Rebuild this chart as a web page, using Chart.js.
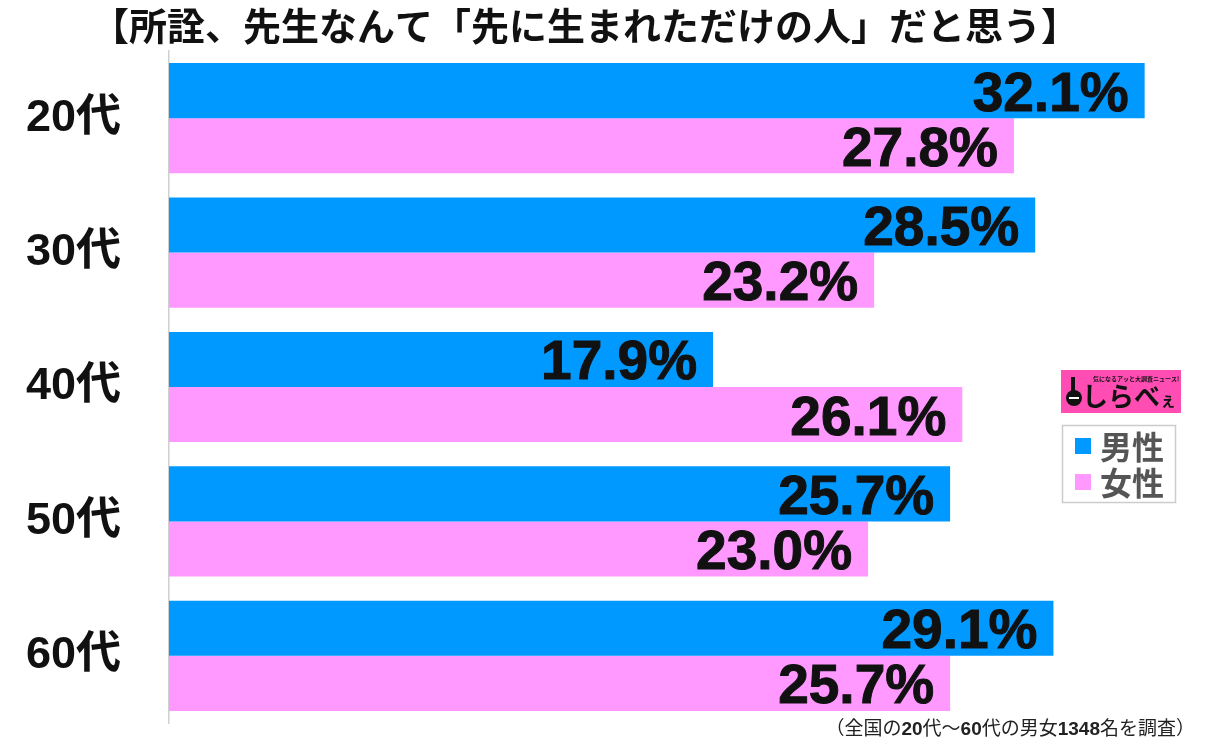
<!DOCTYPE html>
<html><head><meta charset="utf-8">
<script src="https://cdn.jsdelivr.net/npm/chart.js@4"></script>
<style>html,body{margin:0;padding:0;background:#fff;}#wrap{width:1213px;height:746px;}</style>
</head><body><div id="wrap"><canvas id="c" width="1213" height="746"></canvas></div>
<script>
const categories = ['20代','30代','40代','50代','60代'];
const maleValues = [32.1, 28.5, 17.9, 25.7, 29.1];
const femaleValues = [27.8, 23.2, 26.1, 23.0, 25.7];
const seriesNames = ['男性','女性'];
const titleText = '【所詮、先生なんて「先に生まれただけの人」だと思う】';
const noteParts = [['（全国の',false],['20',true],['代～',false],['60',true],['代の男女',false],['1348',true],['名を調査）',false]];

const BLUE = '#0099ff', PINK = '#ff99ff';
const JP = '"Noto Sans CJK JP", "Liberation Sans", sans-serif';
const LAT = '"Liberation Sans", "Noto Sans CJK JP", sans-serif';

const extras = {
  id: 'extras',
  afterDatasetsDraw(chart) {
    const ctx = chart.ctx;
    ctx.save();
    ctx.fillStyle = '#111';
    ctx.font = 'bold 55px ' + LAT;
    ctx.textAlign = 'right';
    ctx.textBaseline = 'alphabetic';
    chart.data.datasets.forEach((ds, di) => {
      chart.getDatasetMeta(di).data.forEach((bar, i) => {
        const t = ds.data[i].toFixed(1) + '%';
        ctx.fillText(t, bar.x - 16, bar.y + 20);
        ctx.lineWidth = 1; ctx.strokeStyle = '#111';
        ctx.strokeText(t, bar.x - 16, bar.y + 20);
      });
    });
    ctx.restore();
  },
  afterDraw(chart) {
    const ctx = chart.ctx;
    ctx.save();
    // title
    ctx.fillStyle = '#111';
    ctx.font = 'bold 38px ' + JP;
    ctx.textAlign = 'center';
    ctx.textBaseline = 'middle';
    ctx.fillText(titleText, 585, 26);
    // footnote
    ctx.textBaseline = 'alphabetic';
    ctx.textAlign = 'left';
    let widths = noteParts.map(([t,b]) => { ctx.font = (b?'bold ':'') + '19px ' + (b?LAT:JP); return ctx.measureText(t).width; });
    let total = widths.reduce((a,b)=>a+b,0);
    let x = 1195 - total;
    ctx.fillStyle = '#222';
    noteParts.forEach(([t,b], k) => {
      ctx.font = (b?'bold ':'') + '19px ' + (b?LAT:JP);
      ctx.fillText(t, x, 735);
      x += widths[k];
    });
    // logo
    ctx.fillStyle = '#ff4db3';
    ctx.fillRect(1061, 370, 120, 43);
    ctx.fillStyle = '#111';
    ctx.font = 'bold 6px ' + JP;
    ctx.textAlign = 'left';
    ctx.fillText('気になるアッと大調査ニュース!', 1093, 381);
    ctx.font = 'bold 26px ' + JP;
    ctx.fillText('しらべ', 1082, 406);
    ctx.font = 'bold 16px ' + JP;
    ctx.fillText('ぇ', 1160, 406);
    ctx.beginPath();
    ctx.arc(1074, 398, 8, 0, Math.PI*2);
    ctx.fill();
    ctx.fillRect(1071, 377, 4, 14);
    ctx.fillStyle = '#fff';
    ctx.fillRect(1069, 397, 10, 2);
    // legend
    ctx.fillStyle = '#fff';
    ctx.fillRect(1062, 425, 113, 77);
    ctx.strokeStyle = '#cccccc';
    ctx.lineWidth = 1.5;
    ctx.strokeRect(1062.5, 425.5, 113, 77);
    const cols = [BLUE, PINK];
    seriesNames.forEach((n, k) => {
      const cy = 446 + k*36;
      ctx.fillStyle = cols[k];
      ctx.fillRect(1075, cy - 8, 16, 16);
      ctx.fillStyle = '#555';
      ctx.font = 'bold 32px ' + JP;
      ctx.textBaseline = 'middle';
      ctx.fillText(n, 1100, cy + 1);
    });
    ctx.restore();
  }
};

new Chart(document.getElementById('c'), {
  type: 'bar',
  data: {
    labels: categories,
    datasets: [
      { label: seriesNames[0], data: maleValues, backgroundColor: BLUE, categoryPercentage: 0.82, barPercentage: 1.0 },
      { label: seriesNames[1], data: femaleValues, backgroundColor: PINK, categoryPercentage: 0.82, barPercentage: 1.0 }
    ]
  },
  options: {
    indexAxis: 'y',
    responsive: false,
    animation: false,
    devicePixelRatio: 1,
    layout: { padding: { top: 51, bottom: 23, right: 41, left: 0 } },
    plugins: { legend: { display: false }, tooltip: { enabled: false }, title: { display: false } },
    scales: {
      x: { display: false, min: 0, max: 33 },
      y: {
        afterFit(s) { s.width = 169; s.paddingTop = 0; s.paddingBottom = 0; },
        grid: { display: false, drawTicks: false },
        border: { display: true, color: '#d0d0d0', width: 1.5 },
        ticks: { color: '#111', padding: 48, font: { family: LAT, size: 45, weight: 'bold' } }
      }
    }
  },
  plugins: [extras]
});
</script></body></html>
